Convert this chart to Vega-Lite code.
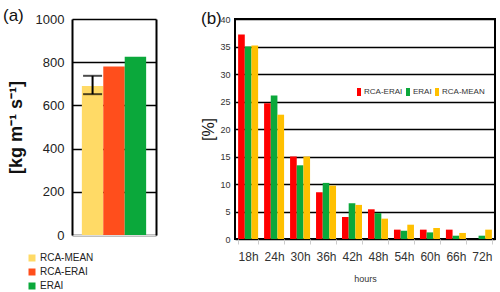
{
  "$schema": "https://vega.github.io/schema/vega-lite/v6.json",
  "background": "white",
  "padding": {"left": 3, "top": 7, "right": 3, "bottom": 2},
  "bounds": "flush",
  "spacing": 79,
  "config": {"view": {"stroke": null}, "font": "Liberation Sans"},
  "resolve": {"scale": {"color": "independent"}, "legend": {"color": "independent"}},
  "datasets": {
    "a": [
      {"series": "RCA-MEAN", "value": 690, "lo": 652, "hi": 737},
      {"series": "RCA-ERAI", "value": 780, "lo": null, "hi": null},
      {"series": "ERAI", "value": 825, "lo": null, "hi": null}
    ],
    "b": [
      {"hour": "18h", "series": "RCA-ERAI", "value": 37.2},
      {"hour": "18h", "series": "ERAI", "value": 35.0},
      {"hour": "18h", "series": "RCA-MEAN", "value": 35.2},
      {"hour": "24h", "series": "RCA-ERAI", "value": 24.7},
      {"hour": "24h", "series": "ERAI", "value": 26.1},
      {"hour": "24h", "series": "RCA-MEAN", "value": 22.6},
      {"hour": "30h", "series": "RCA-ERAI", "value": 15.0},
      {"hour": "30h", "series": "ERAI", "value": 13.4},
      {"hour": "30h", "series": "RCA-MEAN", "value": 15.0},
      {"hour": "36h", "series": "RCA-ERAI", "value": 8.5},
      {"hour": "36h", "series": "ERAI", "value": 10.2},
      {"hour": "36h", "series": "RCA-MEAN", "value": 9.7},
      {"hour": "42h", "series": "RCA-ERAI", "value": 4.0},
      {"hour": "42h", "series": "ERAI", "value": 6.5},
      {"hour": "42h", "series": "RCA-MEAN", "value": 6.2},
      {"hour": "48h", "series": "RCA-ERAI", "value": 5.4},
      {"hour": "48h", "series": "ERAI", "value": 4.7},
      {"hour": "48h", "series": "RCA-MEAN", "value": 3.7},
      {"hour": "54h", "series": "RCA-ERAI", "value": 1.7},
      {"hour": "54h", "series": "ERAI", "value": 1.5},
      {"hour": "54h", "series": "RCA-MEAN", "value": 2.6},
      {"hour": "60h", "series": "RCA-ERAI", "value": 1.7},
      {"hour": "60h", "series": "ERAI", "value": 1.2},
      {"hour": "60h", "series": "RCA-MEAN", "value": 2.0},
      {"hour": "66h", "series": "RCA-ERAI", "value": 1.7},
      {"hour": "66h", "series": "ERAI", "value": 0.6},
      {"hour": "66h", "series": "RCA-MEAN", "value": 1.1},
      {"hour": "72h", "series": "RCA-ERAI", "value": 0},
      {"hour": "72h", "series": "ERAI", "value": 0.6},
      {"hour": "72h", "series": "RCA-MEAN", "value": 1.7}
    ]
  },
  "hconcat": [
    {
      "width": 84,
      "height": 216,
      "title": {"text": "(a)", "anchor": "start", "frame": "group", "dx": -69, "fontSize": 17, "fontWeight": "normal", "baseline": "bottom", "offset": -29, "color": "#111"},
      "data": {"name": "a"},
      "layer": [
        {
          "mark": {"type": "bar"},
          "encoding": {
            "x": {"field": "series", "type": "nominal", "sort": ["RCA-MEAN", "RCA-ERAI", "ERAI"],
                  "scale": {"paddingInner": 0, "paddingOuter": 0.46},
                  "axis": {"title": null, "labels": false, "ticks": false, "domainColor": "#dddddd"}},
            "y": {"field": "value", "type": "quantitative", "scale": {"domain": [0, 1000]},
                  "axis": {"title": "[kg m⁻¹ s⁻¹]", "values": [0, 200, 400, 600, 800, 1000], "format": "d",
                           "grid": true, "gridColor": "black", "gridWidth": 1.5,
                           "domainColor": "black", "domainWidth": 2, "ticks": false,
                           "labelFontSize": 13, "labelColor": "#222", "labelPadding": 8,
                           "titleFontSize": 18, "titleFontWeight": "bold", "titleColor": "#111", "titlePadding": 10}},
            "color": {"field": "series", "type": "nominal",
                      "scale": {"domain": ["RCA-MEAN", "RCA-ERAI", "ERAI"], "range": ["#FFDA66", "#FF4E1C", "#0BA83B"]},
                      "legend": {"orient": "none", "legendX": -45, "legendY": 234, "direction": "vertical", "title": null,
                                 "symbolType": "square", "symbolSize": 49, "symbolStrokeWidth": 0,
                                 "labelFontSize": 10, "labelColor": "#222", "rowPadding": 4, "labelOffset": 3}}
          }
        },
        {
          "transform": [{"filter": "datum.lo != null"}],
          "mark": {"type": "rule", "color": "black", "strokeWidth": 2},
          "encoding": {
            "x": {"field": "series", "type": "nominal", "sort": ["RCA-MEAN", "RCA-ERAI", "ERAI"]},
            "y": {"field": "lo", "type": "quantitative",
                  "axis": {"orient": "right", "title": null, "labels": false, "ticks": false, "grid": false,
                           "domainColor": "black", "domainWidth": 2}},
            "y2": {"field": "hi"}
          }
        },
        {
          "transform": [{"filter": "datum.lo != null"}],
          "mark": {"type": "tick", "color": "black", "thickness": 2, "size": 19},
          "encoding": {
            "x": {"field": "series", "type": "nominal", "sort": ["RCA-MEAN", "RCA-ERAI", "ERAI"]},
            "y": {"field": "lo", "type": "quantitative", "axis": null}
          }
        },
        {
          "transform": [{"filter": "datum.lo != null"}],
          "mark": {"type": "tick", "color": "black", "thickness": 2, "size": 19},
          "encoding": {
            "x": {"field": "series", "type": "nominal", "sort": ["RCA-MEAN", "RCA-ERAI", "ERAI"]},
            "y": {"field": "hi", "type": "quantitative", "axis": null}
          }
        }
      ],
      "resolve": {"axis": {"y": "independent"}}
    },
    {
      "width": 260,
      "height": 220,
      "view": {"stroke": "black", "strokeWidth": 2},
      "title": {"text": "(b)", "anchor": "start", "frame": "group", "dx": -34, "fontSize": 17, "fontWeight": "normal", "baseline": "bottom", "offset": -30, "color": "#111"},
      "data": {"name": "b"},
      "mark": {"type": "bar"},
      "encoding": {
        "x": {"field": "hour", "type": "nominal",
              "sort": ["18h", "24h", "30h", "36h", "42h", "48h", "54h", "60h", "66h", "72h"],
              "scale": {"paddingInner": 0.23, "paddingOuter": 0.12},
              "axis": {"title": "hours", "labelAngle": 0, "labelFontSize": 12, "labelColor": "#333",
                       "labelPadding": 7, "ticks": true, "tickBand": "extent", "tickColor": "#cccccc", "tickSize": 5,
                       "domain": false, "titleFontSize": 9, "titleFontWeight": "normal", "titleColor": "#333",
                       "titlePadding": 12}},
        "xOffset": {"field": "series", "type": "nominal", "sort": ["RCA-ERAI", "ERAI", "RCA-MEAN"],
                    "scale": {"paddingInner": 0, "paddingOuter": 0}},
        "y": {"field": "value", "type": "quantitative", "scale": {"domain": [0, 40]},
              "axis": {"title": "[%]", "values": [0, 5, 10, 15, 20, 25, 30, 35, 40],
                       "grid": true, "gridColor": "black", "gridWidth": 1.5, "domain": false, "ticks": false,
                       "labelFontSize": 9, "labelColor": "#333",
                       "labelPadding": 5, "titleFontSize": 16, "titleFontWeight": "normal", "titleColor": "#111", "titlePadding": 3}},
        "color": {"field": "series", "type": "nominal",
                  "scale": {"domain": ["RCA-ERAI", "ERAI", "RCA-MEAN"], "range": ["#FF0000", "#0BA83B", "#FFC000"]},
                  "legend": {"orient": "none", "legendX": 120, "legendY": 69, "direction": "horizontal", "title": null,
                             "symbolType": "M-0.5,-1H0.5V1H-0.5Z", "symbolSize": 64, "symbolStrokeWidth": 0,
                             "labelFontSize": 8, "labelColor": "#333",
                             "columnPadding": 1, "labelOffset": 1, "fillColor": "white"}}
      }
    }
  ]
}
